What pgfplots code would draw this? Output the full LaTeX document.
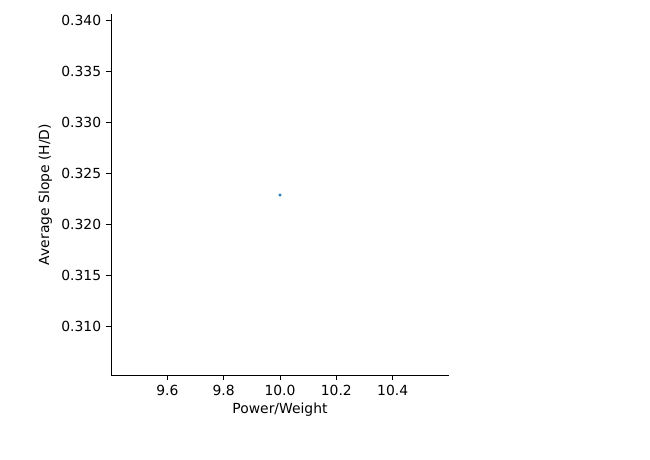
\documentclass[border=0pt]{standalone}
\usepackage{pgfplots}
\pgfplotsset{compat=1.18}
\usepackage{fontspec}
\setmainfont{DejaVu Sans}
\begin{document}
\fontsize{13.9}{16}\selectfont
\begin{tikzpicture}[x=1pt,y=1pt]
\path (0,0) rectangle (650,459);
\begin{axis}[at={(111pt,84pt)},anchor=south west,scale only axis,
width=338pt,height=361pt,
xmin=9.4,xmax=10.6,ymin=0.3052,ymax=0.34059,
axis x line*=bottom,axis y line*=left,
axis line style={line width=1pt},
xtick={9.6,9.8,10.0,10.2,10.4},
ytick={0.310,0.315,0.320,0.325,0.330,0.335,0.340},
/pgf/number format/assume math mode=true,
xticklabel style={/pgf/number format/.cd,fixed,fixed zerofill,precision=1},
yticklabel style={/pgf/number format/.cd,fixed,fixed zerofill,precision=3},
scaled y ticks=false,
tick style={black,line width=1pt},
tick align=outside,major tick length=5pt,
xlabel={Power/Weight},ylabel={Average Slope (H/D)},
xlabel style={yshift=2pt},
]
\addplot[only marks,mark=*,mark size=1.3pt,color={rgb,255:red,31;green,119;blue,180}] coordinates {(10.0,0.32284)};
\end{axis}
\end{tikzpicture}
\end{document}
